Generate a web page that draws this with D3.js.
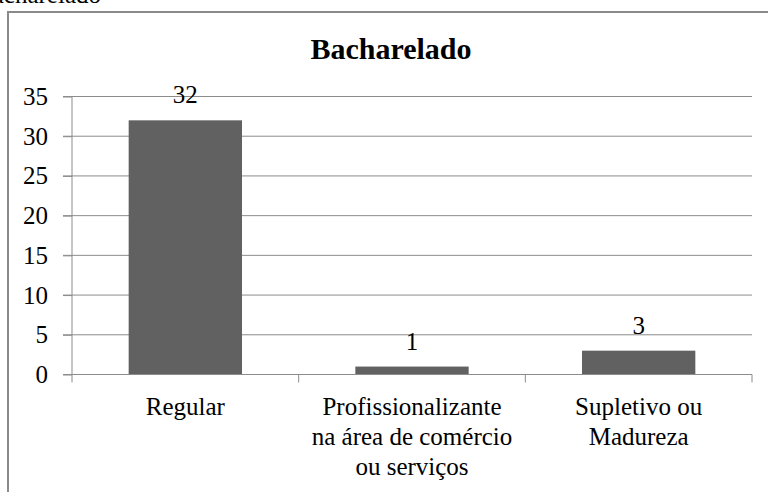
<!DOCTYPE html>
<html><head><meta charset="utf-8">
<script src="https://cdn.jsdelivr.net/npm/d3@7"></script>
</head><body style="margin:0;background:#fff">
<svg id="c" width="768" height="492" style="display:block"></svg>
<script>
const chartTitle = "Bacharelado";
const categories = [["Regular"], ["Profissionalizante","na área de comércio","ou serviços"], ["Supletivo ou","Madureza"]];
const categoryKeys = ["Regular","Profissionalizante","Supletivo"];
const values = [32, 1, 3];
const yTicks = [0,5,10,15,20,25,30,35];

const svg = d3.select("#c");
const serif = s => s.style("font-family",'"Liberation Serif"');
const x0 = 72, x1 = 752, y0 = 374.5, y1 = 96.5;

// frame
svg.append("rect").attr("x",8).attr("y",12).attr("width",800).attr("height",520)
  .attr("fill","#fff").attr("stroke","#8a8a8a").attr("stroke-width",2);

// cut-off caption at top
svg.append("text").attr("x",101).attr("y",3).attr("text-anchor","end")
  .call(serif).style("font-size","25px").attr("fill","#000").text(chartTitle);

const x = d3.scaleBand().domain(categoryKeys).range([x0,x1]).paddingInner(0.5).paddingOuter(0.25);
const y = d3.scaleLinear().domain([0,35]).range([y0,y1]);

// gridlines
svg.append("g").selectAll("line").data(yTicks.filter(d=>d>0)).join("line")
  .attr("x1",63).attr("x2",x1).attr("y1",d=>y(d)).attr("y2",d=>y(d))
  .attr("stroke","#8c8c8c").attr("stroke-width",1);

// y axis
const ya = svg.append("g").attr("transform",`translate(${x0},0)`)
  .call(d3.axisLeft(y).tickValues(yTicks).tickSize(9).tickPadding(15));
ya.attr("font-family","Liberation Serif").attr("font-size",25);
ya.select(".domain").attr("stroke","#8c8c8c").attr("d",`M0,${y1}V${y0+8}`);
ya.selectAll(".tick line").attr("stroke","#8c8c8c");
ya.selectAll(".tick text").call(serif).style("font-size","25px").attr("fill","#000");

// bars
svg.append("g").selectAll("rect").data(values).join("rect")
  .attr("x",(d,i)=>x(categoryKeys[i])).attr("width",x.bandwidth())
  .attr("y",d=>y(d)).attr("height",d=>y(0)-y(d)).attr("fill","#616161");

// x axis
const step = (x1-x0)/categoryKeys.length;
const xa = svg.append("g");
xa.append("line").attr("x1",63).attr("x2",x1).attr("y1",y0).attr("y2",y0).attr("stroke","#8c8c8c");
xa.selectAll("line.t").data(d3.range(1,categoryKeys.length+1)).join("line").attr("class","t")
  .attr("x1",d=>x0+d*step).attr("x2",d=>x0+d*step).attr("y1",y0).attr("y2",y0+8).attr("stroke","#8c8c8c");

// value labels
svg.append("g").selectAll("text").data(values).join("text")
  .attr("x",(d,i)=>x(categoryKeys[i])+x.bandwidth()/2).attr("y",d=>y(d)-17)
  .attr("text-anchor","middle").call(serif).style("font-size","25px").text(d=>d);

// category labels
categories.forEach((lines,i)=>{
  const cx = x(categoryKeys[i])+x.bandwidth()/2;
  const t = svg.append("text").attr("text-anchor","middle").call(serif).style("font-size","25px");
  lines.forEach((l,j)=>t.append("tspan").attr("x",cx).attr("y",415+j*30).text(l));
});

// title
svg.append("text").attr("x",391).attr("y",59).attr("text-anchor","middle")
  .call(serif).style("font-weight","bold").style("font-size","30px").text(chartTitle);
</script>
</body></html>
